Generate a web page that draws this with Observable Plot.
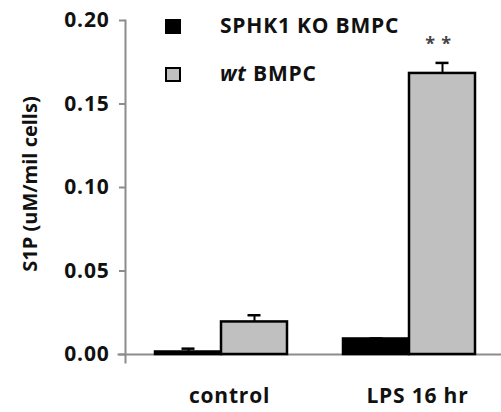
<!DOCTYPE html>
<html>
<head>
<meta charset="utf-8">
<script src="https://cdn.jsdelivr.net/npm/d3@7"></script>
<script src="https://cdn.jsdelivr.net/npm/@observablehq/plot@0.6"></script>
<style>
  html, body { margin: 0; padding: 0; background: #fff; }
  #wrap { position: relative; width: 501px; height: 412px; overflow: hidden; font-family: "Open Sans", sans-serif; font-weight: bold; }
  #wrap svg { position: absolute; left: 0; top: 0; }
  .sw { position: absolute; left: 165px; width: 16px; height: 15px; box-sizing: border-box; }
  .lt { position: absolute; left: 220px; font-size: 21px; line-height: 21px; letter-spacing: 0.8px; color: #111; white-space: nowrap; }
</style>
</head>
<body>
<div id="wrap"></div>
<script>
// ---- data ----
const groups = ["control", "LPS 16 hr"];
const series = ["SPHK1 KO BMPC", "wt BMPC"];
const koValues = [0.0015, 0.0093];
const koErrors = [0.002, 0.0003];
const wtValues = [0.0195, 0.1683];
const wtErrors = [0.004, 0.0063];
const significance = ["", "* *"];
const yTicks = [0, 0.05, 0.10, 0.15, 0.20];
const seriesColors = ["#000000", "#c0c0c0"];

const rows = [];
groups.forEach((g, i) => {
  rows.push({group: g, series: series[0], value: koValues[i], err: koErrors[i], sig: ""});
  rows.push({group: g, series: series[1], value: wtValues[i], err: wtErrors[i], sig: significance[i]});
});
rows.forEach(d => d.top = d.value + d.err);

const chart = Plot.plot({
  width: 501,
  height: 412,
  marginLeft: 124,
  marginRight: 0,
  marginTop: 20,
  marginBottom: 58,
  style: {fontFamily: "Open Sans, sans-serif", fontWeight: "bold", fontSize: "21px", letterSpacing: "0.8px", color: "#111", background: "transparent"},
  fx: {domain: groups, padding: 0, label: null},
  x: {domain: series, paddingInner: 0, paddingOuter: 0.407, align: 0.54, axis: null},
  y: {domain: [0, 0.2], label: null},
  color: {domain: series, range: seriesColors},
  marks: [
    Plot.frame({anchor: "left", facet: "super", stroke: "#8c8c8c", strokeWidth: 2, insetBottom: -8}),
    Plot.frame({anchor: "bottom", facet: "super", stroke: "#8c8c8c", strokeWidth: 2, insetLeft: -7}),
    Plot.axisY(yTicks, {tickSize: 6, tickPadding: 10, stroke: "#8c8c8c", strokeWidth: 2, fill: "#111", tickFormat: d3.format(".2f"), label: null}),
    Plot.axisFx({anchor: "bottom", tickSize: 0, tickPadding: 34, dx: 10, fill: "#111", label: null}),
    Plot.barY(rows, {fx: "group", x: "series", y: "value", fill: "series", stroke: "#000", strokeWidth: 2.5}),
    Plot.ruleX(rows, {fx: "group", x: "series", y1: "value", y2: "top", stroke: "#000", strokeWidth: 2}),
    Plot.tickY(rows, {fx: "group", x: "series", y: "top", insetLeft: 26.5, insetRight: 26.5, stroke: "#000", strokeWidth: 2.5}),
    Plot.text(rows, {fx: "group", x: "series", y: "top", text: "sig", dy: -19, dx: -4, fontSize: 18, fill: "#444", letterSpacing: "0px"})
  ]
});

const wrap = document.getElementById("wrap");
wrap.appendChild(chart);

// y-axis title
const yt = document.createElement("div");
yt.textContent = "S1P (uM/mil cells)";
yt.style.cssText = "position:absolute;left:29px;top:184px;transform:translate(-50%,-50%) rotate(-90deg);font-size:20px;white-space:nowrap;color:#111;";
wrap.appendChild(yt);

// legend
const legendTops = [19, 67];
const textTops = [15.3, 63.4];
series.forEach((s, i) => {
  const sw = document.createElement("div");
  sw.className = "sw";
  sw.style.top = legendTops[i] + "px";
  sw.style.background = seriesColors[i];
  sw.style.border = "2px solid #000";
  wrap.appendChild(sw);
  const t = document.createElement("div");
  t.className = "lt";
  t.style.top = textTops[i] + "px";
  if (s.startsWith("wt")) {
    t.innerHTML = "<i>wt</i> BMPC";
  } else {
    t.textContent = s;
  }
  wrap.appendChild(t);
});
</script>
</body>
</html>
